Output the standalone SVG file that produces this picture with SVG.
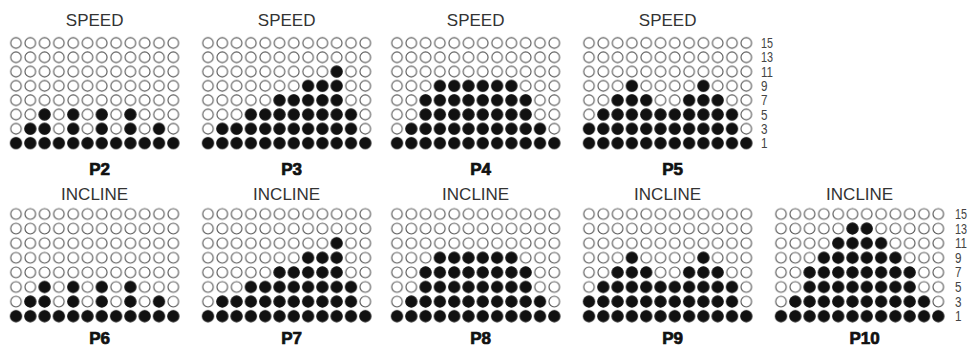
<svg xmlns="http://www.w3.org/2000/svg" width="978" height="350" viewBox="0 0 978 350">
<style>
.hd{font-family:"Liberation Sans",Arial,sans-serif;font-size:17px;fill:#333;text-anchor:middle}
.pl{font-family:"Liberation Sans",Arial,sans-serif;font-size:17px;font-weight:bold;fill:#111;stroke:#111;stroke-width:0.7;text-anchor:middle}
.nm{font-family:"Liberation Sans",Arial,sans-serif;font-size:14px;fill:#444}
.e1{fill:url(#e1)} .f1{fill:url(#f1)} .e2{fill:url(#e2)} .f2{fill:url(#f2)}
</style>
<defs>
<pattern id="e1" patternUnits="userSpaceOnUse" width="14.3" height="14.3"><circle cx="7.15" cy="7.15" r="5.3" fill="#fff" stroke="#555" stroke-width="1.1"/></pattern>
<pattern id="f1" patternUnits="userSpaceOnUse" width="14.3" height="14.3"><circle cx="7.15" cy="7.15" r="6" fill="#111"/></pattern>
<pattern id="e2" patternUnits="userSpaceOnUse" width="14.3" height="14.6"><circle cx="7.15" cy="7.3" r="5.3" fill="#fff" stroke="#555" stroke-width="1.1"/></pattern>
<pattern id="f2" patternUnits="userSpaceOnUse" width="14.3" height="14.6"><circle cx="7.15" cy="7.3" r="6" fill="#111"/></pattern>
</defs>
<rect width="978" height="350" fill="#fff"/>

<g id="P2" transform="translate(8.85,35.85)">
<text class="hd" x="85.8" y="-9.85">SPEED</text>
<rect class="e1" width="171.6" height="114.4"/>
<rect class="f1" x="28.6" y="71.5" width="14.3" height="14.3"/>
<rect class="f1" x="57.2" y="71.5" width="14.3" height="14.3"/>
<rect class="f1" x="85.8" y="71.5" width="14.3" height="14.3"/>
<rect class="f1" x="114.4" y="71.5" width="14.3" height="14.3"/>
<rect class="f1" x="14.3" y="85.8" width="28.6" height="14.3"/>
<rect class="f1" x="57.2" y="85.8" width="14.3" height="14.3"/>
<rect class="f1" x="85.8" y="85.8" width="14.3" height="14.3"/>
<rect class="f1" x="114.4" y="85.8" width="14.3" height="14.3"/>
<rect class="f1" x="143" y="85.8" width="14.3" height="14.3"/>
<rect class="f1" x="0" y="100.1" width="171.6" height="14.3"/>
<text class="pl" x="90.8" y="139.15">P2</text>
</g>

<g id="P3" transform="translate(200.85,35.85)">
<text class="hd" x="85.8" y="-9.85">SPEED</text>
<rect class="e1" width="171.6" height="114.4"/>
<rect class="f1" x="128.7" y="28.6" width="14.3" height="14.3"/>
<rect class="f1" x="100.1" y="42.9" width="42.9" height="14.3"/>
<rect class="f1" x="71.5" y="57.2" width="71.5" height="14.3"/>
<rect class="f1" x="42.9" y="71.5" width="114.4" height="14.3"/>
<rect class="f1" x="14.3" y="85.8" width="143" height="14.3"/>
<rect class="f1" x="0" y="100.1" width="171.6" height="14.3"/>
<text class="pl" x="90.8" y="139.15">P3</text>
</g>

<g id="P4" transform="translate(389.85,35.85)">
<text class="hd" x="85.8" y="-9.85">SPEED</text>
<rect class="e1" width="171.6" height="114.4"/>
<rect class="f1" x="42.9" y="42.9" width="85.8" height="14.3"/>
<rect class="f1" x="28.6" y="57.2" width="114.4" height="28.6"/>
<rect class="f1" x="14.3" y="85.8" width="143" height="14.3"/>
<rect class="f1" x="0" y="100.1" width="171.6" height="14.3"/>
<text class="pl" x="90.8" y="139.15">P4</text>
</g>

<g id="P5" transform="translate(581.85,35.85)">
<text class="hd" x="85.8" y="-9.85">SPEED</text>
<rect class="e1" width="171.6" height="114.4"/>
<rect class="f1" x="42.9" y="42.9" width="14.3" height="14.3"/>
<rect class="f1" x="114.4" y="42.9" width="14.3" height="14.3"/>
<rect class="f1" x="28.6" y="57.2" width="42.9" height="14.3"/>
<rect class="f1" x="100.1" y="57.2" width="42.9" height="14.3"/>
<rect class="f1" x="14.3" y="71.5" width="143" height="14.3"/>
<rect class="f1" x="0" y="85.8" width="157.3" height="14.3"/>
<rect class="f1" x="0" y="100.1" width="171.6" height="14.3"/>
<text class="pl" x="90.8" y="139.15">P5</text>
</g>

<g id="P6" transform="translate(8.85,206.7)">
<text class="hd" x="85.8" y="-6.7">INCLINE</text>
<rect class="e2" width="171.6" height="116.8"/>
<rect class="f2" x="28.6" y="73" width="14.3" height="14.6"/>
<rect class="f2" x="57.2" y="73" width="14.3" height="14.6"/>
<rect class="f2" x="85.8" y="73" width="14.3" height="14.6"/>
<rect class="f2" x="114.4" y="73" width="14.3" height="14.6"/>
<rect class="f2" x="14.3" y="87.6" width="28.6" height="14.6"/>
<rect class="f2" x="57.2" y="87.6" width="14.3" height="14.6"/>
<rect class="f2" x="85.8" y="87.6" width="14.3" height="14.6"/>
<rect class="f2" x="114.4" y="87.6" width="14.3" height="14.6"/>
<rect class="f2" x="143" y="87.6" width="14.3" height="14.6"/>
<rect class="f2" x="0" y="102.2" width="171.6" height="14.6"/>
<text class="pl" x="90.8" y="137.3">P6</text>
</g>

<g id="P7" transform="translate(200.85,206.7)">
<text class="hd" x="85.8" y="-6.7">INCLINE</text>
<rect class="e2" width="171.6" height="116.8"/>
<rect class="f2" x="128.7" y="29.2" width="14.3" height="14.6"/>
<rect class="f2" x="100.1" y="43.8" width="42.9" height="14.6"/>
<rect class="f2" x="71.5" y="58.4" width="71.5" height="14.6"/>
<rect class="f2" x="42.9" y="73" width="114.4" height="14.6"/>
<rect class="f2" x="14.3" y="87.6" width="143" height="14.6"/>
<rect class="f2" x="0" y="102.2" width="171.6" height="14.6"/>
<text class="pl" x="90.8" y="137.3">P7</text>
</g>

<g id="P8" transform="translate(389.85,206.7)">
<text class="hd" x="85.8" y="-6.7">INCLINE</text>
<rect class="e2" width="171.6" height="116.8"/>
<rect class="f2" x="42.9" y="43.8" width="85.8" height="14.6"/>
<rect class="f2" x="28.6" y="58.4" width="114.4" height="29.2"/>
<rect class="f2" x="14.3" y="87.6" width="143" height="14.6"/>
<rect class="f2" x="0" y="102.2" width="171.6" height="14.6"/>
<text class="pl" x="90.8" y="137.3">P8</text>
</g>

<g id="P9" transform="translate(581.85,206.7)">
<text class="hd" x="85.8" y="-6.7">INCLINE</text>
<rect class="e2" width="171.6" height="116.8"/>
<rect class="f2" x="42.9" y="43.8" width="14.3" height="14.6"/>
<rect class="f2" x="114.4" y="43.8" width="14.3" height="14.6"/>
<rect class="f2" x="28.6" y="58.4" width="42.9" height="14.6"/>
<rect class="f2" x="100.1" y="58.4" width="42.9" height="14.6"/>
<rect class="f2" x="14.3" y="73" width="143" height="14.6"/>
<rect class="f2" x="0" y="87.6" width="157.3" height="14.6"/>
<rect class="f2" x="0" y="102.2" width="171.6" height="14.6"/>
<text class="pl" x="90.8" y="137.3">P9</text>
</g>

<g id="P10" transform="translate(773.85,206.7)">
<text class="hd" x="85.8" y="-6.7">INCLINE</text>
<rect class="e2" width="171.6" height="116.8"/>
<rect class="f2" x="71.5" y="14.6" width="28.6" height="14.6"/>
<rect class="f2" x="57.2" y="29.2" width="57.2" height="14.6"/>
<rect class="f2" x="42.9" y="43.8" width="85.8" height="14.6"/>
<rect class="f2" x="28.6" y="58.4" width="114.4" height="29.2"/>
<rect class="f2" x="14.3" y="87.6" width="143" height="14.6"/>
<rect class="f2" x="0" y="102.2" width="171.6" height="14.6"/>
<text class="pl" x="90.8" y="137.3">P10</text>
</g>

<g id="scale-top">
<text class="nm" x="761" y="48" textLength="12" lengthAdjust="spacingAndGlyphs">15</text>
<text class="nm" x="761" y="62.3" textLength="12" lengthAdjust="spacingAndGlyphs">13</text>
<text class="nm" x="761" y="76.6" textLength="12" lengthAdjust="spacingAndGlyphs">11</text>
<text class="nm" x="761" y="90.9" textLength="6.5" lengthAdjust="spacingAndGlyphs">9</text>
<text class="nm" x="761" y="105.2" textLength="6.5" lengthAdjust="spacingAndGlyphs">7</text>
<text class="nm" x="761" y="119.5" textLength="6.5" lengthAdjust="spacingAndGlyphs">5</text>
<text class="nm" x="761" y="133.8" textLength="6.5" lengthAdjust="spacingAndGlyphs">3</text>
<text class="nm" x="761" y="148.1" textLength="6.5" lengthAdjust="spacingAndGlyphs">1</text>
</g>
<g id="scale-bottom">
<text class="nm" x="955" y="219" textLength="12" lengthAdjust="spacingAndGlyphs">15</text>
<text class="nm" x="955" y="233.6" textLength="12" lengthAdjust="spacingAndGlyphs">13</text>
<text class="nm" x="955" y="248.2" textLength="12" lengthAdjust="spacingAndGlyphs">11</text>
<text class="nm" x="955" y="262.8" textLength="6.5" lengthAdjust="spacingAndGlyphs">9</text>
<text class="nm" x="955" y="277.4" textLength="6.5" lengthAdjust="spacingAndGlyphs">7</text>
<text class="nm" x="955" y="292" textLength="6.5" lengthAdjust="spacingAndGlyphs">5</text>
<text class="nm" x="955" y="306.6" textLength="6.5" lengthAdjust="spacingAndGlyphs">3</text>
<text class="nm" x="955" y="321.2" textLength="6.5" lengthAdjust="spacingAndGlyphs">1</text>
</g>
<g id="connectors"/>
</svg>
